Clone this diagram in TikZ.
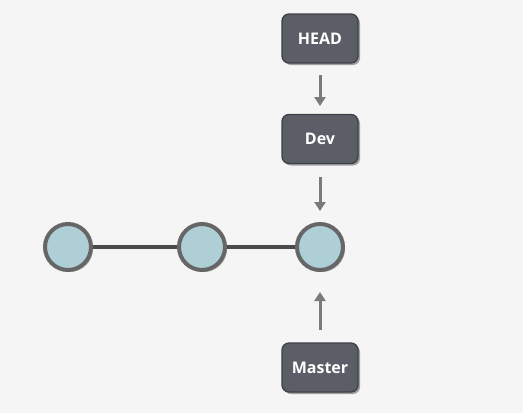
\documentclass[tikz,border=0pt]{standalone}
\usepackage{fontspec}
\setmainfont{Open Sans}
\usetikzlibrary{arrows.meta,shadows}
\definecolor{bg}{HTML}{F5F5F5}
\definecolor{refbox}{HTML}{5B5E67}
\definecolor{refedge}{HTML}{3F4148}
\definecolor{commitfill}{HTML}{AECFD6}
\definecolor{commitedge}{HTML}{666666}
\definecolor{linkline}{HTML}{4A4A4A}
\definecolor{ptr}{HTML}{7A7A7A}
\tikzset{
  refnode/.style={draw=refedge, line width=1.3pt, fill=refbox, rounded corners=7pt,
    minimum width=76pt, minimum height=49pt, text=white,
    font=\fontsize{16}{19}\selectfont\bfseries,
    drop shadow={shadow xshift=2pt, shadow yshift=-2pt, opacity=0.35, fill=black}},
  commit/.style={circle, draw=commitedge, line width=4pt, fill=commitfill,
    minimum size=46pt, inner sep=0pt,
    drop shadow={shadow xshift=2pt, shadow yshift=-2pt, opacity=0.25, fill=black}},
  link/.style={draw=linkline, line width=3.5pt},
  pointer/.style={draw=ptr, line width=3pt,
    -{Triangle[length=9pt,width=11pt]}}
}
\begin{document}
\begin{tikzpicture}[x=1pt,y=-1pt]
  \fill[bg] (0,0) rectangle (523,413);
  \useasboundingbox (0,0) rectangle (523,413);
  % branch references
  \node[refnode] (head) at (320,38.5) {HEAD};
  \node[refnode] (dev) at (320,139) {Dev};
  \node[refnode] (master) at (320,367.5) {Master};
  % commits
  \node[commit] (c1) at (68,247) {};
  \node[commit] (c2) at (202,247) {};
  \node[commit] (c3) at (320,247) {};
  \draw[link] (c1) -- (c2);
  \draw[link] (c2) -- (c3);
  % pointers
  \coordinate (headTail) at (320,75);
  \coordinate (headTip) at (320,106);
  \coordinate (devTail) at (320,177);
  \coordinate (devTip) at (320,211);
  \coordinate (masterTail) at (320,330);
  \coordinate (masterTip) at (320,292);
  \draw[pointer] (headTail) -- (headTip);
  \draw[pointer] (devTail) -- (devTip);
  \draw[pointer] (masterTail) -- (masterTip);
\end{tikzpicture}
\end{document}
